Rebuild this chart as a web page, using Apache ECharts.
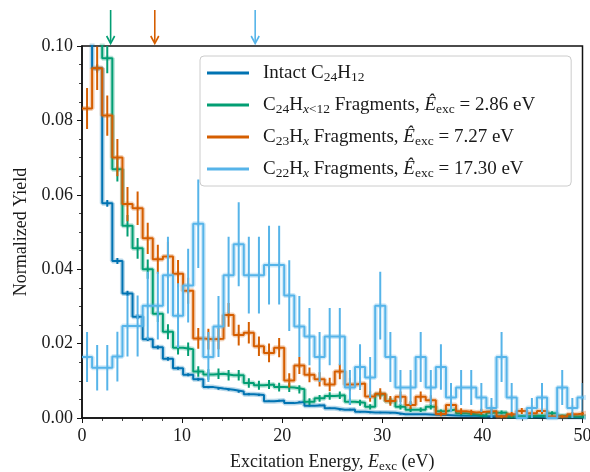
<!DOCTYPE html>
<html>
<head>
<meta charset="utf-8">
<script src="https://cdn.jsdelivr.net/npm/echarts@6/dist/echarts.min.js"></script>
<style>html,body{margin:0;padding:0;background:#fff;overflow:hidden}#c{width:590px;height:472px}</style>
</head>
<body>
<div id="c"></div>
<script>
// ---- data ----
const binWidth = 1.01;           // eV, histogram bin width
const xTicks = [0, 10, 20, 30, 40, 50];
const yTicks = [0.00, 0.02, 0.04, 0.06, 0.08, 0.10];

const seriesNames = ['intact', 'c24', 'c23', 'c22'];
const seriesColors = ['#0173b2', '#029e73', '#d55e00', '#56b4e9'];

// Intact C24H12 (bin 0 is far above the axis)
const intact = [0.35, 0.094, 0.0577, 0.0422, 0.0335, 0.0272, 0.0212, 0.0190, 0.0159, 0.0134,
  0.0116, 0.0104, 0.0083, 0.0079, 0.0076, 0.0071, 0.0064, 0.0062, 0.0045, 0.0047,
  0.0040, 0.0043, 0.0033, 0.0034, 0.0026, 0.0022, 0.0023, 0.0017, 0.0015, 0.0015,
  0.0014, 0.0010, 0.0010, 0.0010, 0.0009, 0.0008, 0.0007, 0.0006, 0.0006, 0.0005,
  0.0005, 0.0005, 0.0004, 0.0004, 0.0004, 0.0003, 0.0003, 0.0003, 0.0003, 0.0002];
const intactErr = [0.003, 0.0011, 0.0009, 0.0008, 0.0007, 0.0006, 0.0005, 0.0005, 0.0005, 0.0004,
  0.0004, 0.0004, 0.0003, 0.0003, 0.0003, 0.0003, 0.0003, 0.0003, 0.0002, 0.0002,
  0.0002, 0.0002, 0.0002, 0.0002, 0.0002, 0.0002, 0.0002, 0.0002, 0.0002, 0.0002,
  0.0002, 0.0001, 0.0001, 0.0001, 0.0001, 0.0001, 0.0001, 0.0001, 0.0001, 0.0001,
  0.0001, 0.0001, 0.0001, 0.0001, 0.0001, 0.0001, 0.0001, 0.0001, 0.0001, 0.0001];

// C24Hx<12 fragments (bins 0,1 above the axis)
const c24 = [0.16, 0.13, 0.0967, 0.0669, 0.0517, 0.0456, 0.0400, 0.0280, 0.0232, 0.0189,
  0.0185, 0.0125, 0.0117, 0.0119, 0.0115, 0.0115, 0.0094, 0.0088, 0.0090, 0.0083,
  0.0082, 0.0077, 0.0044, 0.0053, 0.0059, 0.0061, 0.0044, 0.0041, 0.0030, 0.0063,
  0.0046, 0.0030, 0.0022, 0.0022, 0.0030, 0.0018, 0.0023, 0.0013, 0.0010, 0.0006,
  0.0014, 0.0015, 0.0004, 0.0004, 0.0006, 0.0006, 0.0013, 0.0006, 0.0004, 0.0004];
const c24Err = [0.005, 0.0047, 0.0040, 0.0033, 0.0029, 0.0028, 0.0026, 0.0022, 0.0020, 0.0018,
  0.0018, 0.0014, 0.0014, 0.0014, 0.0014, 0.0014, 0.0013, 0.0012, 0.0012, 0.0012,
  0.0012, 0.0011, 0.0009, 0.0009, 0.0010, 0.0010, 0.0009, 0.0008, 0.0007, 0.0010,
  0.0009, 0.0007, 0.0006, 0.0006, 0.0007, 0.0005, 0.0006, 0.0005, 0.0004, 0.0003,
  0.0005, 0.0005, 0.0003, 0.0003, 0.0003, 0.0003, 0.0005, 0.0003, 0.0003, 0.0003];

// C23Hx fragments
const c23 = [0.0832, 0.0940, 0.0813, 0.0700, 0.0575, 0.0564, 0.0483, 0.0427, 0.0434, 0.0388,
  0.0342, 0.0214, 0.0212, 0.0213, 0.0277, 0.0223, 0.0229, 0.0193, 0.0175, 0.0189,
  0.0101, 0.0141, 0.0116, 0.0104, 0.0090, 0.0125, 0.0090, 0.0093, 0.0058, 0.0065,
  0.0046, 0.0057, 0.0035, 0.0057, 0.0048, 0.0011, 0.0035, 0.0018, 0.0015, 0.0017,
  0.0019, 0.0004, 0.0010, 0.0019, 0.0013, 0.0019, 0.0004, 0.0004, 0.0010, 0.0013];
const c23Err = [0.0055, 0.0058, 0.0054, 0.0050, 0.0046, 0.0045, 0.0042, 0.0039, 0.0040, 0.0037,
  0.0035, 0.0028, 0.0028, 0.0028, 0.0032, 0.0028, 0.0029, 0.0026, 0.0025, 0.0026,
  0.0019, 0.0023, 0.0020, 0.0019, 0.0018, 0.0021, 0.0018, 0.0018, 0.0014, 0.0015,
  0.0013, 0.0014, 0.0011, 0.0014, 0.0013, 0.0006, 0.0011, 0.0008, 0.0007, 0.0008,
  0.0008, 0.0004, 0.0006, 0.0008, 0.0007, 0.0008, 0.0004, 0.0004, 0.0006, 0.0007];

// C22Hx fragments
const c22 = [0.0164, 0.0135, 0.0135, 0.0165, 0.0247, 0.0247, 0.0302, 0.0302, 0.0384, 0.0275,
  0.0356, 0.0522, 0.0164, 0.0246, 0.0384, 0.0467, 0.0384, 0.0384, 0.0411, 0.0411,
  0.0329, 0.0246, 0.0219, 0.0164, 0.0219, 0.0219, 0.0082, 0.0137, 0.0109, 0.0302,
  0.0164, 0.0082, 0.0082, 0.0164, 0.0082, 0.0137, 0.0055, 0.0082, 0.0082, 0.0055,
  0.0027, 0.0164, 0.0055, 0.0000, 0.0027, 0.0055, 0.0000, 0.0082, 0.0027, 0.0055];
const c22Err = [0.0067, 0.0061, 0.0061, 0.0067, 0.0082, 0.0082, 0.0091, 0.0091, 0.0103, 0.0087,
  0.0099, 0.0119, 0.0067, 0.0082, 0.0103, 0.0113, 0.0103, 0.0103, 0.0106, 0.0106,
  0.0095, 0.0082, 0.0077, 0.0067, 0.0077, 0.0077, 0.0047, 0.0061, 0.0055, 0.0091,
  0.0067, 0.0047, 0.0047, 0.0067, 0.0047, 0.0061, 0.0039, 0.0047, 0.0047, 0.0039,
  0.0027, 0.0067, 0.0039, 0.0000, 0.0027, 0.0039, 0.0000, 0.0047, 0.0027, 0.0039];

// mean excitation energies marked by arrows above the plot
const arrowEnergies = [2.86, 7.27, 17.30];
const arrowColors = ['#029e73', '#d55e00', '#56b4e9'];

const legendLabels = {
  intact: 'Intact C{sub|24}H{sub|12}',
  c24: 'C{sub|24}H{subi|x}{sub|<12} Fragments, {it|Ê}{sub|exc} = 2.86 eV',
  c23: 'C{sub|23}H{subi|x} Fragments, {it|Ê}{sub|exc} = 7.27 eV',
  c22: 'C{sub|22}H{subi|x} Fragments, {it|Ê}{sub|exc} = 17.30 eV'
};

// ---- build ----
const FONT = 'Liberation Serif';
const TXT = '#1a1a1a';
const allVals = [intact, c24, c23, c22];
const allErrs = [intactErr, c24Err, c23Err, c22Err];

function stepPoints(vals) {
  const pts = vals.map((v, k) => [k * binWidth, v]);
  pts.push([vals.length * binWidth, vals[vals.length - 1]]);
  return pts;
}
function errPoints(vals, errs) {
  return vals.map((v, k) => [(k + 0.5) * binWidth, v - errs[k], v + errs[k]]);
}

const series = [];
seriesNames.forEach((name, i) => {
  const color = seriesColors[i];
  series.push({
    name: name + '_halo', type: 'line', step: 'end', data: stepPoints(allVals[i]),
    symbol: 'none', silent: true, clip: true, z: 2 + i * 3,
    lineStyle: { color: color, width: 5, opacity: 0.28 }, itemStyle: { color: color },
    animation: false
  });
  series.push({
    name: name, type: 'line', step: 'end', data: stepPoints(allVals[i]),
    symbol: 'none', clip: true, z: 3 + i * 3,
    lineStyle: { color: color, width: 2 }, itemStyle: { color: color },
    animation: false
  });
  series.push({
    name: name + '_err', type: 'custom', data: errPoints(allVals[i], allErrs[i]),
    silent: true, z: 4 + i * 3, animation: false,
    renderItem: function (params, api) {
      const x = api.value(0), lo = api.value(1), hi = api.value(2);
      if (hi - lo <= 0) return;
      const p1 = api.coord([x, lo]), p2 = api.coord([x, hi]);
      const cs = params.coordSys;
      return {
        type: 'group',
        clipPath: { type: 'rect', shape: { x: cs.x, y: cs.y, width: cs.width, height: cs.height } },
        children: [{
          type: 'line', shape: { x1: p1[0], y1: p1[1], x2: p2[0], y2: p2[1] },
          style: { stroke: color, lineWidth: 2 }
        }]
      };
    }
  });
});

const yMax = yTicks[yTicks.length - 1];
series.push({
  name: 'arrows', type: 'custom', silent: true, z: 30, animation: false, clip: false,
  data: arrowEnergies.map((e, i) => [e, i]),
  renderItem: function (params, api) {
    const p = api.coord([api.value(0), yMax]);
    const c = arrowColors[api.value(1)];
    const x = p[0], y = p[1];
    return {
      type: 'group', children: [
        { type: 'line', shape: { x1: x, y1: y - 36, x2: x, y2: y - 3 }, style: { stroke: c, lineWidth: 1.6 } },
        { type: 'polyline', shape: { points: [[x - 4, y - 10], [x, y - 2.5], [x + 4, y - 10]] },
          style: { stroke: c, lineWidth: 1.6, fill: null } }
      ]
    };
  }
});

const richBase = { fontFamily: FONT, fontSize: 18, color: TXT };
const rich = {
  sub: { fontFamily: FONT, fontSize: 13, color: TXT, lineHeight: 10, verticalAlign: 'bottom' },
  subi: { fontFamily: FONT, fontSize: 13, fontStyle: 'italic', color: TXT, lineHeight: 10, verticalAlign: 'bottom' },
  it: { fontFamily: FONT, fontSize: 18, fontStyle: 'italic', color: TXT, lineHeight: 22 }
};
const legendRich = {
  sub: { fontFamily: FONT, fontSize: 13.5, color: TXT, lineHeight: 10, verticalAlign: 'bottom' },
  subi: { fontFamily: FONT, fontSize: 13.5, fontStyle: 'italic', color: TXT, lineHeight: 10, verticalAlign: 'bottom' },
  it: { fontFamily: FONT, fontSize: 19, fontStyle: 'italic', color: TXT, lineHeight: 22 }
};

const chart = echarts.init(document.getElementById('c'), null, { renderer: 'canvas' });
chart.setOption({
  animation: false,
  backgroundColor: '#ffffff',
  grid: {
    left: 82, right: 7.5, top: 46, bottom: 54, outerBoundsMode: 'none', containLabel: false,
    show: true, borderColor: '#111', borderWidth: 1.5, backgroundColor: 'transparent'
  },
  xAxis: {
    type: 'value', min: xTicks[0], max: xTicks[xTicks.length - 1], interval: xTicks[1] - xTicks[0],
    name: 'Excitation Energy, {it|E}{sub|exc} (eV)', nameLocation: 'middle', nameGap: 33,
    nameTextStyle: Object.assign({}, richBase, { lineHeight: 22, rich: rich }),
    axisLine: { show: true, onZero: false, lineStyle: { color: '#111', width: 1.5 } },
    axisTick: { show: true, length: 5, lineStyle: { color: '#111', width: 1 } },
    minorTick: { show: true, splitNumber: 5, length: 3, lineStyle: { color: '#111', width: 0.8 } },
    axisLabel: { fontFamily: FONT, fontSize: 18, color: TXT, margin: 9 },
    splitLine: { show: false }
  },
  yAxis: {
    type: 'value', min: yTicks[0], max: yMax, interval: yTicks[1] - yTicks[0],
    name: 'Normalized Yield', nameLocation: 'middle', nameGap: 52,
    nameTextStyle: { fontFamily: FONT, fontSize: 18, color: TXT },
    axisLine: { show: true, onZero: false, lineStyle: { color: '#111', width: 1.5 } },
    axisTick: { show: true, length: 5, lineStyle: { color: '#111', width: 1 } },
    minorTick: { show: true, splitNumber: 4, length: 3, lineStyle: { color: '#111', width: 0.8 } },
    axisLabel: { fontFamily: FONT, fontSize: 18, color: TXT, margin: 9, formatter: v => v.toFixed(2) },
    splitLine: { show: false }
  },
  legend: {
    data: seriesNames, orient: 'vertical', left: 200, top: 56,
    padding: [6, 36, 6, 7], itemGap: 10, itemWidth: 42, itemHeight: 3, icon: 'rect',
    backgroundColor: 'rgba(255,255,255,0.85)', borderColor: '#cccccc', borderWidth: 1, borderRadius: 4,
    selectedMode: false,
    textStyle: { fontFamily: FONT, fontSize: 19, color: TXT, lineHeight: 22, padding: [0, 0, 0, 9], rich: legendRich },
    formatter: name => legendLabels[name]
  },
  series: series
});
</script>
</body>
</html>
